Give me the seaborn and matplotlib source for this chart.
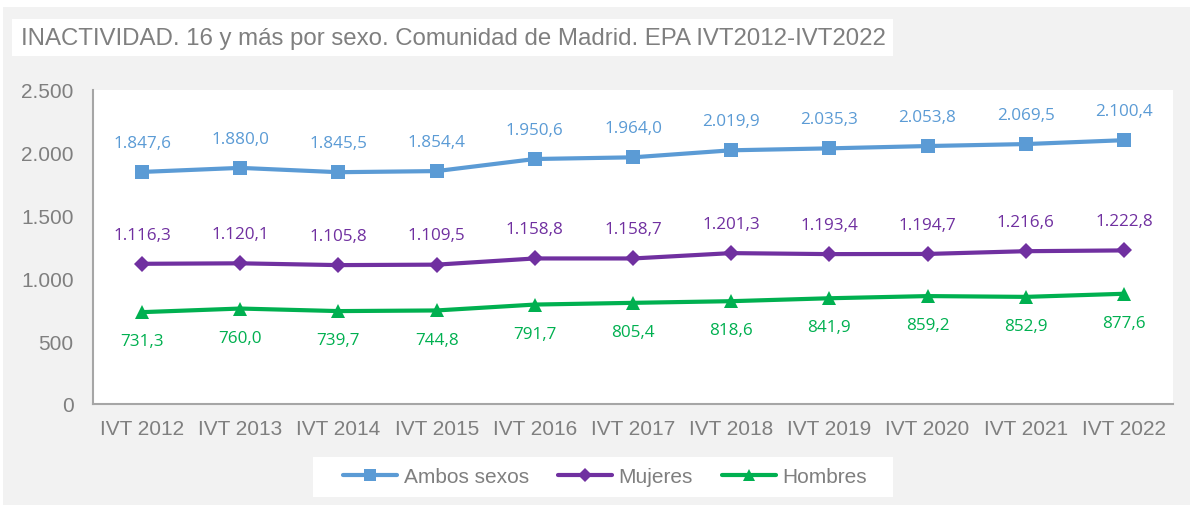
import numpy as np
import pandas as pd
import matplotlib
matplotlib.use("Agg")
import matplotlib.pyplot as plt
import seaborn as sns
from matplotlib.patches import Rectangle
from matplotlib.lines import Line2D

# datos (miles de personas)
periodos = ["IVT 2012", "IVT 2013", "IVT 2014", "IVT 2015", "IVT 2016", "IVT 2017",
            "IVT 2018", "IVT 2019", "IVT 2020", "IVT 2021", "IVT 2022"]
ambos = [1847.6, 1880.0, 1845.5, 1854.4, 1950.6, 1964.0, 2019.9, 2035.3, 2053.8, 2069.5, 2100.4]
mujeres = [1116.3, 1120.1, 1105.8, 1109.5, 1158.8, 1158.7, 1201.3, 1193.4, 1194.7, 1216.6, 1222.8]
hombres = [731.3, 760.0, 739.7, 744.8, 791.7, 805.4, 818.6, 841.9, 859.2, 852.9, 877.6]
series = ["Ambos sexos", "Mujeres", "Hombres"]
y_ticks = [0, 500, 1000, 1500, 2000, 2500]

colores = {"Ambos sexos": "#5b9bd5", "Mujeres": "#7030a0", "Hombres": "#00b050"}
marcadores = {"Ambos sexos": "s", "Mujeres": "D", "Hombres": "^"}
tamanos = {"Ambos sexos": 10, "Mujeres": 8, "Hombres": 10}
offsets = {"Ambos sexos": 21, "Mujeres": 21, "Hombres": -21}
GRIS = "#7f7f7f"

df = pd.DataFrame({
    "periodo": periodos * 3,
    "valor": ambos + mujeres + hombres,
    "serie": np.repeat(series, len(periodos)),
})


def fmt_es(v, dec=1):
    s = f"{v:,.{dec}f}"
    return s.replace(",", "X").replace(".", ",").replace("X", ".")


sns.set_style("white")
plt.rcParams['font.family'] = ['Liberation Sans', 'DejaVu Sans']

fig = plt.figure(figsize=(11.9, 5.06), dpi=100, facecolor="#f2f2f2")
# bordes blancos arriba/izquierda
fig.patches.append(Rectangle((0, 1 - 8 / 506), 1, 8 / 506, transform=fig.transFigure,
                             facecolor="white", edgecolor="none", zorder=0))
fig.patches.append(Rectangle((0, 0), 3 / 1190, 1, transform=fig.transFigure,
                             facecolor="white", edgecolor="none", zorder=0))

ax = fig.add_axes([93 / 1190, 101 / 506, 1080 / 1190, 314 / 506])
ax.set_facecolor("white")

for s in series:
    sub = df[df["serie"] == s]
    sns.lineplot(data=sub, x="periodo", y="valor", ax=ax, color=colores[s], sort=False,
                 linewidth=3, marker=marcadores[s], markersize=tamanos[s],
                 markeredgewidth=0, legend=False)
    for i, (p, v) in enumerate(zip(sub["periodo"], sub["valor"])):
        ax.annotate(fmt_es(v), (i, v), xytext=(0, offsets[s]), textcoords="offset points",
                    ha="center", va="center", color=colores[s], fontsize=12.3,
                    family=["Open Sans", "DejaVu Sans"])

ax.set_xlim(-0.5, len(periodos) - 0.5)
ax.set_ylim(0, 2500)
ax.set_yticks(y_ticks)
ax.set_yticklabels([fmt_es(t, 0) for t in y_ticks])
ax.set_xticks(range(len(periodos)))
ax.set_xticklabels(periodos)
ax.set_xlabel("")
ax.set_ylabel("")
ax.tick_params(axis="y", length=0, pad=14, labelsize=15, labelcolor=GRIS)
ax.tick_params(axis="x", length=0, pad=11, labelsize=15, labelcolor=GRIS)
for side in ["top", "right"]:
    ax.spines[side].set_visible(False)
for side in ["left", "bottom"]:
    ax.spines[side].set_color("#a6a6a6")
    ax.spines[side].set_linewidth(1.5)
ax.grid(False)

# título en caja blanca
fig.patches.append(Rectangle((12 / 1190, 449 / 506), 881 / 1190, 37 / 506,
                             transform=fig.transFigure, facecolor="white",
                             edgecolor="none", zorder=1))
fig.text(21 / 1190, 467 / 506,
         "INACTIVIDAD. 16 y más por sexo. Comunidad de Madrid. EPA IVT2012-IVT2022",
         ha="left", va="center", fontsize=17.3, color=GRIS, zorder=2)

# leyenda en caja blanca
fig.patches.append(Rectangle((313 / 1190, 8 / 506), 580 / 1190, 40 / 506,
                             transform=fig.transFigure, facecolor="white",
                             edgecolor="none", zorder=1))
handles = [Line2D([], [], color=colores[s], marker=marcadores[s], markersize=tamanos[s] - 1,
                  markeredgewidth=0, linewidth=3) for s in series]
leg = fig.legend(handles, series, loc="center", bbox_to_anchor=(605 / 1190, 28 / 506),
                 ncol=3, frameon=False, fontsize=15, handlelength=2.6,
                 handletextpad=0.3, columnspacing=1.4)
for t in leg.get_texts():
    t.set_color(GRIS)

fig.savefig("out.png", dpi=100, facecolor=fig.get_facecolor())
